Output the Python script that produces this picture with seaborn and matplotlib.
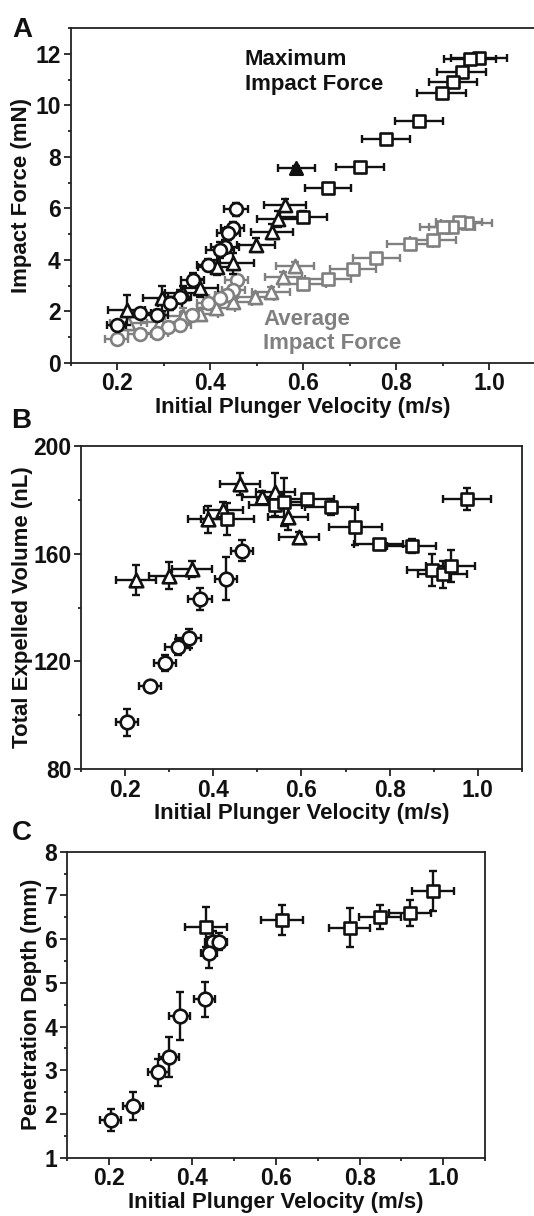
import numpy as np
import pandas as pd
import matplotlib
matplotlib.use("Agg")
import matplotlib.pyplot as plt
from matplotlib.ticker import MultipleLocator
import seaborn as sns

# ---------------- Panel A data ----------------
# Maximum impact force (black)
a_max_sq_v = [0.978, 0.959, 0.941, 0.923, 0.898, 0.850, 0.778, 0.723, 0.654, 0.601]
a_max_sq_f = [11.83, 11.80, 11.29, 10.90, 10.47, 9.41, 8.70, 7.62, 6.80, 5.68]
a_max_sq_xe = [0.060, 0.055, 0.052, 0.052, 0.053, 0.052, 0.052, 0.052, 0.050, 0.050]
a_max_sq_ye = [0.12, 0.12, 0.15, 0.15, 0.15, 0.12, 0.10, 0.15, 0.10, 0.20]

a_max_tr_v = [0.561, 0.547, 0.533, 0.499, 0.450, 0.414, 0.378, 0.343, 0.296, 0.221]
a_max_tr_f = [6.13, 5.58, 5.09, 4.58, 3.86, 3.71, 2.89, 2.70, 2.50, 2.05]
a_max_tr_xe = [0.045, 0.045, 0.045, 0.040, 0.045, 0.040, 0.040, 0.040, 0.040, 0.040]
a_max_tr_ye = [0.25, 0.30, 0.30, 0.25, 0.40, 0.30, 0.35, 0.30, 0.50, 0.60]

a_max_tri_fill_v = [0.586]
a_max_tri_fill_f = [7.56]

a_max_ci_v = [0.456, 0.449, 0.439, 0.432, 0.422, 0.396, 0.363, 0.335, 0.314, 0.285, 0.249, 0.199]
a_max_ci_f = [5.96, 5.23, 5.03, 4.51, 4.38, 3.80, 3.22, 2.57, 2.31, 1.85, 1.92, 1.47]
a_max_ci_xe = [0.025, 0.025, 0.025, 0.030, 0.030, 0.025, 0.025, 0.025, 0.025, 0.025, 0.025, 0.020]
a_max_ci_ye = [0.25, 0.25, 0.25, 0.25, 0.30, 0.25, 0.25, 0.25, 0.25, 0.20, 0.15, 0.15]

# Average impact force (gray)
a_avg_sq_v = [0.952, 0.936, 0.920, 0.902, 0.880, 0.830, 0.758, 0.707, 0.654, 0.599]
a_avg_sq_f = [5.42, 5.46, 5.29, 5.29, 4.77, 4.61, 4.06, 3.63, 3.24, 3.06]
a_avg_sq_xe = [0.055, 0.050, 0.050, 0.050, 0.050, 0.050, 0.050, 0.050, 0.050, 0.050]
a_avg_sq_ye = [0.10, 0.10, 0.10, 0.10, 0.10, 0.10, 0.10, 0.10, 0.10, 0.10]

a_avg_tr_v = [0.583, 0.558, 0.531, 0.497, 0.450, 0.413, 0.378, 0.343, 0.292, 0.224]
a_avg_tr_f = [3.76, 3.32, 2.76, 2.54, 2.37, 2.11, 1.89, 1.82, 1.60, 1.56]
a_avg_tr_xe = [0.040, 0.040, 0.040, 0.040, 0.040, 0.040, 0.040, 0.040, 0.040, 0.040]
a_avg_tr_ye = [0.15, 0.20, 0.20, 0.15, 0.20, 0.20, 0.20, 0.30, 0.20, 0.20]

a_avg_ci_v = [0.457, 0.450, 0.436, 0.422, 0.396, 0.361, 0.335, 0.310, 0.285, 0.249, 0.199]
a_avg_ci_f = [3.22, 2.83, 2.63, 2.50, 2.31, 1.85, 1.47, 1.40, 1.14, 1.12, 0.91]
a_avg_ci_xe = [0.025, 0.025, 0.025, 0.025, 0.025, 0.025, 0.025, 0.025, 0.025, 0.025, 0.025]
a_avg_ci_ye = [0.15, 0.15, 0.15, 0.15, 0.15, 0.12, 0.12, 0.12, 0.10, 0.10, 0.10]

# ---------------- Panel B data ----------------
b_tr_v = [0.225, 0.300, 0.351, 0.387, 0.423, 0.461, 0.511, 0.541, 0.569, 0.595]
b_tr_vol = [150.2, 151.8, 154.2, 172.7, 176.2, 185.8, 181.1, 182.9, 173.7, 166.0]
b_tr_xe = [0.045, 0.045, 0.045, 0.045, 0.045, 0.045, 0.045, 0.045, 0.045, 0.045]
b_tr_ye = [5.5, 5.0, 3.0, 5.0, 3.0, 4.0, 2.0, 7.0, 5.0, 2.0]

b_sq_v = [0.432, 0.541, 0.560, 0.613, 0.667, 0.722, 0.775, 0.850, 0.895, 0.920, 0.938, 0.975]
b_sq_vol = [172.8, 178.0, 179.2, 180.1, 177.4, 170.0, 163.5, 162.8, 153.9, 152.3, 155.5, 180.2]
b_sq_xe = [0.060, 0.060, 0.060, 0.060, 0.060, 0.060, 0.055, 0.055, 0.055, 0.055, 0.055, 0.055]
b_sq_ye = [6.0, 4.0, 9.0, 2.0, 3.0, 7.0, 1.0, 2.5, 6.0, 5.0, 6.0, 4.0]

b_ci_v = [0.466, 0.428, 0.370, 0.344, 0.319, 0.291, 0.256, 0.205]
b_ci_vol = [161.1, 150.6, 143.2, 128.6, 125.5, 119.3, 110.9, 97.4]
b_ci_xe = [0.025, 0.025, 0.028, 0.028, 0.028, 0.025, 0.025, 0.025]
b_ci_ye = [4.0, 8.0, 4.0, 3.5, 3.0, 3.0, 1.0, 5.0]

# ---------------- Panel C data ----------------
c_sq_v = [0.432, 0.615, 0.776, 0.848, 0.921, 0.975]
c_sq_d = [6.28, 6.44, 6.26, 6.51, 6.60, 7.10]
c_sq_xe = [0.050, 0.050, 0.050, 0.050, 0.050, 0.050]
c_sq_ye = [0.45, 0.35, 0.45, 0.27, 0.30, 0.45]

c_ci_v = [0.449, 0.463, 0.440, 0.429, 0.370, 0.344, 0.318, 0.258, 0.205]
c_ci_d = [5.94, 5.94, 5.69, 4.62, 4.25, 3.30, 2.95, 2.19, 1.86]
c_ci_xe = [0.020, 0.020, 0.020, 0.025, 0.025, 0.025, 0.025, 0.025, 0.025]
c_ci_ye = [0.25, 0.20, 0.35, 0.40, 0.55, 0.45, 0.30, 0.32, 0.26]

XLABEL = "Initial Plunger Velocity (m/s)"

# ---------------- style ----------------
sns.set_theme(style="ticks")
plt.rcParams["font.family"] = ["Liberation Sans", "DejaVu Sans"]
plt.rcParams["font.weight"] = "bold"
plt.rcParams["axes.labelweight"] = "bold"
plt.rcParams["axes.linewidth"] = 1.3
plt.rcParams["xtick.major.width"] = 1.3
plt.rcParams["ytick.major.width"] = 1.3
plt.rcParams["xtick.minor.width"] = 1.3
plt.rcParams["ytick.minor.width"] = 1.3
plt.rcParams["xtick.major.size"] = 5
plt.rcParams["ytick.major.size"] = 5
plt.rcParams["xtick.minor.size"] = 2.5
plt.rcParams["ytick.minor.size"] = 2.5
plt.rcParams["axes.edgecolor"] = "#222222"

BLACK = "#111111"
GRAY = "#808080"
FS_TICK = 16.5
FS_LAB = 16

fig = plt.figure(figsize=(5.34, 12.16), dpi=100)
W, H = 534.0, 1216.0


def add_ax(l, t, r, b):
    return fig.add_axes([l / W, 1 - b / H, (r - l) / W, (b - t) / H])


def series(ax, v, y, xe, ye, marker, color, size, z=3, face="white"):
    ax.errorbar(v, y, xerr=xe, yerr=ye, fmt="none", ecolor=color,
                elinewidth=1.7, capsize=3.2, capthick=1.7, zorder=z)
    df = pd.DataFrame({"v": v, "y": y})
    sns.scatterplot(data=df, x="v", y="y", ax=ax, marker=marker, s=size,
                    facecolor=face, edgecolor=color, linewidth=1.9,
                    zorder=z + 0.5, legend=False)


def style_ax(ax, ylim, ymaj, ymin, ylabel, ypad):
    ax.set_xlim(0.1, 1.1)
    ax.set_ylim(*ylim)
    ax.xaxis.set_major_locator(MultipleLocator(0.2))
    ax.xaxis.set_minor_locator(MultipleLocator(0.1))
    ax.yaxis.set_major_locator(MultipleLocator(ymaj))
    ax.yaxis.set_minor_locator(MultipleLocator(ymin))
    ax.set_xticks([0.2, 0.4, 0.6, 0.8, 1.0])
    ax.set_xticklabels(["0.2", "0.4", "0.6", "0.8", "1.0"])
    ax.tick_params(axis="both", which="both", direction="out",
                   top=False, right=False, labelsize=FS_TICK, pad=2,
                   colors="#222222", labelcolor="#111111")
    for lab in ax.get_xticklabels() + ax.get_yticklabels():
        lab.set_fontweight("bold")
    ax.set_xlabel(XLABEL, fontsize=FS_LAB, fontweight="bold", labelpad=1,
                  color="#111111")
    ax.set_ylabel(ylabel, fontsize=FS_LAB, fontweight="bold", labelpad=ypad,
                  color="#111111")
    for sp in ax.spines.values():
        sp.set_visible(True)


# ---------------- Panel A ----------------
axA = add_ax(70.5, 28.3, 535.5, 362.7)
series(axA, a_avg_sq_v, a_avg_sq_f, a_avg_sq_xe, a_avg_sq_ye, "s", GRAY, 70, z=2)
series(axA, a_avg_tr_v, a_avg_tr_f, a_avg_tr_xe, a_avg_tr_ye, "^", GRAY, 90, z=2)
series(axA, a_avg_ci_v, a_avg_ci_f, a_avg_ci_xe, a_avg_ci_ye, "o", GRAY, 85, z=2)
series(axA, a_max_sq_v, a_max_sq_f, a_max_sq_xe, a_max_sq_ye, "s", BLACK, 70, z=4)
series(axA, a_max_tr_v, a_max_tr_f, a_max_tr_xe, a_max_tr_ye, "^", BLACK, 90, z=4)
series(axA, a_max_ci_v, a_max_ci_f, a_max_ci_xe, a_max_ci_ye, "o", BLACK, 85, z=4)
series(axA, a_max_tri_fill_v, a_max_tri_fill_f, [0.04], [0.1], "^", BLACK, 80, z=4,
       face=BLACK)
style_ax(axA, (0, 13), 2, 1, "Impact Force (mN)", 2)
axA.text(0.475, 11.3, "Maximum\nImpact Force", fontsize=16, fontweight="bold",
         color=BLACK, ha="left", va="center", linespacing=1.2)
axA.text(0.514, 1.22, "Average\nImpact Force", fontsize=16, fontweight="bold",
         color=GRAY, ha="left", va="center", linespacing=1.2)

# ---------------- Panel B ----------------
axB = add_ax(81, 445.7, 522, 769.3)
series(axB, b_tr_v, b_tr_vol, b_tr_xe, b_tr_ye, "^", BLACK, 95)
series(axB, b_sq_v, b_sq_vol, b_sq_xe, b_sq_ye, "s", BLACK, 80)
series(axB, b_ci_v, b_ci_vol, b_ci_xe, b_ci_ye, "o", BLACK, 95)
style_ax(axB, (80, 200), 40, 20, "Total Expelled Volume (nL)", 0)

# ---------------- Panel C ----------------
axC = add_ax(67, 851.7, 485, 1157.7)
series(axC, c_sq_v, c_sq_d, c_sq_xe, c_sq_ye, "s", BLACK, 80)
series(axC, c_ci_v, c_ci_d, c_ci_xe, c_ci_ye, "o", BLACK, 95)
style_ax(axC, (1, 8), 1, 0.5, "Penetration Depth (mm)", 2)

# Panel letters
for letter, (px, py) in {"A": (12, 37), "B": (11, 428), "C": (12, 840)}.items():
    fig.text(px / W, 1 - py / H, letter, fontsize=20, fontweight="bold",
             color="#111111", ha="left", va="baseline")

fig.savefig("out.png", dpi=100, facecolor="white")
